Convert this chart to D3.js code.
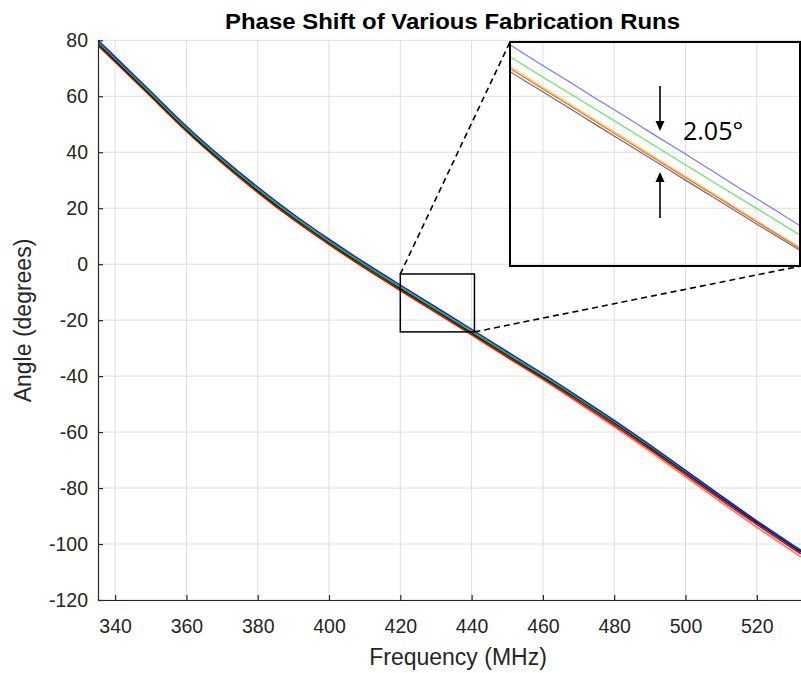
<!DOCTYPE html>
<html>
<head>
<meta charset="utf-8">
<script src="https://cdn.jsdelivr.net/npm/d3@7"></script>
<style>
  html, body { margin: 0; padding: 0; background: #fff; }
  svg { display: block; }
  text { font-family: "Liberation Sans", Arial, Helvetica, sans-serif; }
</style>
</head>
<body>
<svg id="chart" width="801" height="673"></svg>
<script>
// ---------------- data ----------------
const freq = [335.2, 340, 350, 360, 370, 380, 390, 400, 410, 420, 430, 440, 450, 460, 470, 480, 490, 500, 510, 520, 530, 532.4];

const runBlue   = [80.0, 74.1, 61.7, 49.3, 38.0, 27.5, 17.8, 8.9, 0.5, -7.5, -15.4, -23.3, -31.3, -39.2, -47.4, -55.8, -64.6, -73.7, -82.8, -91.8, -100.4, -102.3];
const runGreen  = [79.3, 73.4, 61.0, 48.6, 37.3, 26.8, 17.1, 8.2, -0.2, -8.2, -16.1, -24.0, -32.0, -39.8, -47.9, -56.2, -64.9, -73.9, -82.9, -91.7, -100.2, -102.1];
const runBlack  = [78.8, 72.9, 60.5, 48.1, 36.8, 26.3, 16.6, 7.7, -0.7, -8.7, -16.6, -24.5, -32.5, -40.3, -48.4, -56.8, -65.5, -74.5, -83.5, -92.3, -100.8, -102.7];
const runRed    = [78.2, 72.3, 59.9, 47.5, 36.2, 25.7, 16.0, 7.1, -1.3, -9.3, -17.2, -25.1, -33.1, -40.9, -49.1, -57.5, -66.2, -75.2, -84.2, -93.0, -101.5, -103.4];
const runSalmon = [78.4, 72.5, 60.1, 47.6, 36.3, 25.7, 16.0, 7.1, -1.4, -9.4, -17.3, -25.3, -33.4, -41.3, -49.6, -58.1, -66.9, -76.0, -85.1, -94.0, -102.6, -104.6];

const xTicks = [340, 360, 380, 400, 420, 440, 460, 480, 500, 520];
const yTicks = [-120, -100, -80, -60, -40, -20, 0, 20, 40, 60, 80];

// zoomed inset (420–440 MHz)
const insetFreq   = [420, 422, 424, 426, 428, 430, 432, 434, 436, 438, 440];
const insetBlue   = [-6.95, -8.55, -10.10, -11.70, -13.25, -14.85, -16.40, -18.00, -19.60, -21.15, -22.75];
const insetGreen  = [-7.98, -9.55, -11.10, -12.65, -14.20, -15.77, -17.35, -18.90, -20.45, -22.00, -23.56];
const insetYellow = [-8.82, -10.42, -11.98, -13.58, -15.15, -16.75, -18.32, -19.90, -21.48, -23.07, -24.62];
const insetRed    = [-8.99, -10.57, -12.14, -13.72, -15.30, -16.88, -18.45, -20.02, -21.60, -23.17, -24.74];
const insetGray   = [-9.28, -10.84, -12.40, -13.98, -15.54, -17.10, -18.68, -20.24, -21.80, -23.35, -24.90];

const zoomRegion = { f0: 420, f1: 440.8, a0: -3.5, a1: -24.2 };
const spreadLabel = "2.05°";

const titleText = "Phase Shift of Various Fabrication Runs";
const xLabel = "Frequency (MHz)";
const yLabel = "Angle (degrees)";

// ---------------- layout ----------------
const svg = d3.select("#chart");
const L = 98, R = 801, T = 40.3, B = 600;

const x = d3.scaleLinear().domain([335.2, 532.4]).range([L, R]);
const y = d3.scaleLinear().domain([-120, 80]).range([B, T]);

const axisColor = "#262626";
const gridColor = "#dedede";

// grid
const grid = svg.append("g");
grid.selectAll("line.v").data(xTicks).join("line")
  .attr("x1", d => x(d)).attr("x2", d => x(d))
  .attr("y1", T).attr("y2", B)
  .attr("stroke", gridColor).attr("stroke-width", 1);
grid.selectAll("line.h").data(yTicks).join("line")
  .attr("x1", L).attr("x2", R)
  .attr("y1", d => y(d)).attr("y2", d => y(d))
  .attr("stroke", gridColor).attr("stroke-width", 1);

// curves
const runs = [
  { c: "#ff7a5c", v: runSalmon },
  { c: "#e00000", v: runRed },
  { c: "#111111", v: runBlack },
  { c: "#00c800", v: runGreen },
  { c: "#1a1aff", v: runBlue }
];
svg.append("clipPath").attr("id", "plotClip").append("rect")
  .attr("x", L).attr("y", T - 5).attr("width", R - L).attr("height", B - T + 5);
const line = d3.line().x((d, i) => x(freq[i])).y(d => y(d)).curve(d3.curveNatural);
svg.append("g").attr("clip-path", "url(#plotClip)")
  .selectAll("path").data(runs).join("path")
  .attr("d", d => line(d.v))
  .attr("fill", "none")
  .attr("stroke", d => d.c)
  .attr("stroke-width", 1.6);

// axes
const fmt = d => String(d);
const xAxis = d3.axisBottom(x).tickValues(xTicks).tickFormat(fmt).tickSizeInner(-5).tickSizeOuter(0).tickPadding(19.5);
const yAxis = d3.axisLeft(y).tickValues(yTicks).tickFormat(fmt).tickSizeInner(-5).tickSizeOuter(0).tickPadding(10);

const gx = svg.append("g").attr("transform", `translate(0,${B})`).call(xAxis);
const gy = svg.append("g").attr("transform", `translate(${L},0)`).call(yAxis);
[gx, gy].forEach(g => {
  g.select(".domain").attr("stroke", axisColor).attr("stroke-width", 1.2);
  g.selectAll(".tick line").attr("stroke", axisColor).attr("stroke-width", 1.2);
  g.selectAll(".tick text").attr("fill", axisColor)
    .style("font-family", "'Liberation Sans', Arial, sans-serif").style("font-size", "19.5px");
});

// title & labels
svg.append("text").attr("x", 452.5).attr("y", 28.5).attr("text-anchor", "middle")
  .style("font-size", "22px").style("font-weight", "bold").attr("fill", "#000")
  .attr("textLength", 455).attr("lengthAdjust", "spacingAndGlyphs")
  .text(titleText);
svg.append("text").attr("x", 458).attr("y", 665).attr("text-anchor", "middle")
  .style("font-size", "23px").attr("fill", axisColor).text(xLabel);
svg.append("text").attr("transform", `translate(31,320.5) rotate(-90)`).attr("text-anchor", "middle")
  .style("font-size", "23px").attr("fill", axisColor).text(yLabel);

// zoom box on main plot
const bx0 = x(zoomRegion.f0), bx1 = x(zoomRegion.f1), by0 = y(zoomRegion.a0), by1 = y(zoomRegion.a1);
svg.append("rect").attr("x", bx0).attr("y", by0).attr("width", bx1 - bx0).attr("height", by1 - by0)
  .attr("fill", "none").attr("stroke", "#000").attr("stroke-width", 1.5);

// inset
const IX0 = 510, IX1 = 801, IY0 = 42, IY1 = 266;
const xi = d3.scaleLinear().domain([420, 440]).range([IX0, IX1]);
const yi = d3.scaleLinear().domain([-6.7, -26.2]).range([IY0, IY1]);

svg.append("clipPath").attr("id", "insetClip").append("rect")
  .attr("x", IX0).attr("y", IY0).attr("width", IX1 - IX0).attr("height", IY1 - IY0);

const insetRuns = [
  { c: "#6e6e6e", v: insetGray },
  { c: "#f2d94a", v: insetYellow },
  { c: "#ff5a36", v: insetRed },
  { c: "#5ee85e", v: insetGreen },
  { c: "#7777ff", v: insetBlue }
];
const iline = d3.line().x((d, i) => xi(insetFreq[i])).y(d => yi(d)).curve(d3.curveMonotoneX);
svg.append("g").attr("clip-path", "url(#insetClip)")
  .selectAll("path").data(insetRuns).join("path")
  .attr("d", d => iline(d.v))
  .attr("fill", "none").attr("stroke", d => d.c).attr("stroke-width", 1.2);

svg.append("rect").attr("x", IX0).attr("y", IY0).attr("width", IX1 - IX0 - 1).attr("height", IY1 - IY0)
  .attr("fill", "none").attr("stroke", "#000").attr("stroke-width", 2);

// dashed connectors
svg.append("line").attr("x1", bx0).attr("y1", by0).attr("x2", IX0).attr("y2", IY0)
  .attr("stroke", "#000").attr("stroke-width", 1.6).attr("stroke-dasharray", "6,4");
svg.append("line").attr("x1", bx1).attr("y1", by1).attr("x2", IX1).attr("y2", IY1)
  .attr("stroke", "#000").attr("stroke-width", 1.6).attr("stroke-dasharray", "6,4");

// spread arrows
const ax = 660;
function arrow(yFrom, yTip) {
  const dir = yTip > yFrom ? 1 : -1;
  const headLen = 10, headW = 4.5;
  svg.append("line").attr("x1", ax).attr("y1", yFrom).attr("x2", ax).attr("y2", yTip - dir * headLen)
    .attr("stroke", "#000").attr("stroke-width", 1.6);
  svg.append("path")
    .attr("d", `M${ax},${yTip} L${ax - headW},${yTip - dir * headLen} L${ax + headW},${yTip - dir * headLen} Z`)
    .attr("fill", "#000");
}
arrow(86, 131);
arrow(218, 172);
svg.append("text").attr("x", 683).attr("y", 140)
  .style("font-family", "'Open Sans', 'Noto Sans', sans-serif").style("font-size", "25px")
  .attr("fill", "#000").text(spreadLabel);
</script>
</body>
</html>
